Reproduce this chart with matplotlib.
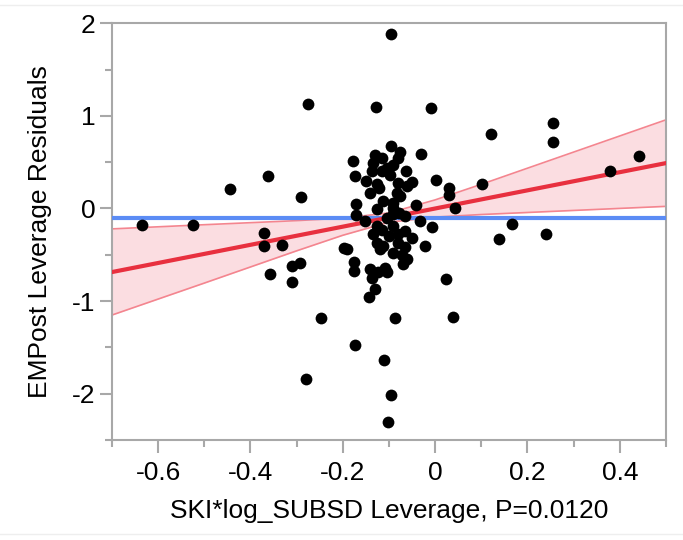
import matplotlib
matplotlib.use("Agg")
import matplotlib.pyplot as plt
from matplotlib.lines import Line2D
from matplotlib.ticker import MultipleLocator

# leverage residuals
x_lev = [-0.634, -0.524, -0.445, -0.362, -0.275, -0.290, -0.370, -0.370, -0.331, -0.357,
         -0.310, -0.292, -0.310, -0.248, -0.280, -0.197, -0.191, -0.176, -0.176, -0.173,
         -0.110, -0.095, -0.103, -0.086, 0.039, 0.023, -0.096, -0.129, -0.010, 0.255,
         0.255, 0.120, 0.441, 0.378, 0.102, 0.029, 0.029, 0.043, 0.001, -0.031,
         0.166, 0.139, 0.241, -0.022, -0.007, -0.033, -0.042, -0.065,
         -0.096, -0.179, -0.130, -0.116, -0.076, -0.080, -0.134, -0.091, -0.105, -0.137,
         -0.116, -0.063, -0.173, -0.098, -0.080, -0.051, -0.126, -0.121, -0.142, -0.082,
         -0.077, -0.112, -0.091, -0.172, -0.172, -0.126, -0.091, -0.091, -0.152, -0.126,
         -0.134, -0.116, -0.091, -0.101, -0.080, -0.065, -0.051, -0.126, -0.112, -0.080,
         -0.065, -0.119, -0.091, -0.072, -0.061, -0.069, -0.141, -0.108, -0.123, -0.105,
         -0.137, -0.130, -0.143, -0.105, -0.078, -0.062, -0.150]
y_res = [-0.18, -0.18, 0.21, 0.35, 1.13, 0.12, -0.26, -0.41, -0.39, -0.71,
         -0.62, -0.59, -0.79, -1.18, -1.84, -0.43, -0.44, -0.58, -0.67, -1.47,
         -1.63, -2.01, -2.30, -1.18, -1.17, -0.76, 1.88, 1.10, 1.09, 0.92,
         0.72, 0.80, 0.57, 0.40, 0.26, 0.22, 0.15, 0.00, 0.31, 0.59,
         -0.17, -0.33, -0.28, -0.40, -0.20, -0.13, 0.04, -0.08,
         0.68, 0.51, 0.58, 0.55, 0.61, 0.54, 0.49, 0.47, 0.44, 0.41,
         0.40, 0.40, 0.35, 0.36, 0.28, 0.29, 0.26, 0.22, 0.17, 0.17,
         0.13, 0.08, 0.06, 0.05, -0.07, -0.01, 0.01, -0.06, -0.14, -0.19,
         -0.28, -0.23, -0.19, -0.30, -0.28, -0.24, -0.32, -0.37, -0.40, -0.37,
         -0.42, -0.44, -0.48, -0.50, -0.55, -0.60, -0.65, -0.64, -0.69, -0.69,
         -0.75, -0.87, -0.95, -0.10, -0.05, 0.24, 0.30]

# fit line and 95% band, read at a few x positions
x_fit = [-0.7, -0.5, -0.3, -0.2, -0.1, 0.0, 0.1, 0.3, 0.5]
y_fit = [-0.686, -0.49, -0.294, -0.196, -0.098, 0.0, 0.098, 0.294, 0.49]
y_upper = [-0.22, -0.175, -0.131, -0.104, -0.048, 0.093, 0.261, 0.609, 0.957]
y_lower = [-1.15, -0.805, -0.457, -0.289, -0.148, -0.093, -0.065, -0.021, 0.023]
y_mean = -0.10

plt.rcParams['font.family'] = ['Liberation Sans', 'DejaVu Sans']

fig = plt.figure(figsize=(6.83, 5.40), dpi=100)
ax = fig.add_axes([0.164, 0.185, 0.811, 0.772])

ax.fill_between(x_fit, y_lower, y_upper, color="#fbdde1", zorder=1, linewidth=0)
ax.plot(x_fit, y_upper, color="#f4858f", lw=1.2, zorder=2)
ax.plot(x_fit, y_lower, color="#f4858f", lw=1.2, zorder=2)
ax.axhline(y_mean, color="#5b8cf5", lw=3, zorder=3)
ax.plot(x_fit, y_fit, color="#e8303f", lw=3, zorder=4)
ax.scatter(x_lev, y_res, s=72, color="black", zorder=5, linewidths=0)

ax.set_xlim(-0.7, 0.5)
ax.set_ylim(-2.5, 2.0)
ax.xaxis.set_minor_locator(MultipleLocator(0.1))
ax.yaxis.set_minor_locator(MultipleLocator(0.5))
ax.set_xticks([-0.6, -0.4, -0.2, 0, 0.2, 0.4])
ax.set_xticklabels(["-0.6", "-0.4", "-0.2", "0", "0.2", "0.4"])
ax.set_yticks([-2, -1, 0, 1, 2])
ax.set_yticklabels(["-2", "-1", "0", "1", "2"])

for s in ax.spines.values():
    s.set_color("#a8a8a8")
    s.set_linewidth(1.5)
ax.tick_params(which="major", length=9, width=1.5, color="#a8a8a8",
               labelsize=19, pad=3)
ax.tick_params(axis="x", which="major", pad=6)
ax.tick_params(which="minor", length=5, width=1.5, color="#a8a8a8")

ax.set_xlabel("SKI*log_SUBSD Leverage, P=0.0120", fontsize=19, labelpad=10)
ax.set_ylabel("EMPost Leverage Residuals", fontsize=19, labelpad=14)

# faint report frame lines
fig.add_artist(Line2D([0, 1], [0.991, 0.991], color="#eeeeee", lw=1))
fig.add_artist(Line2D([0, 1], [0.012, 0.012], color="#eeeeee", lw=1))

fig.savefig("out.png", dpi=100)
